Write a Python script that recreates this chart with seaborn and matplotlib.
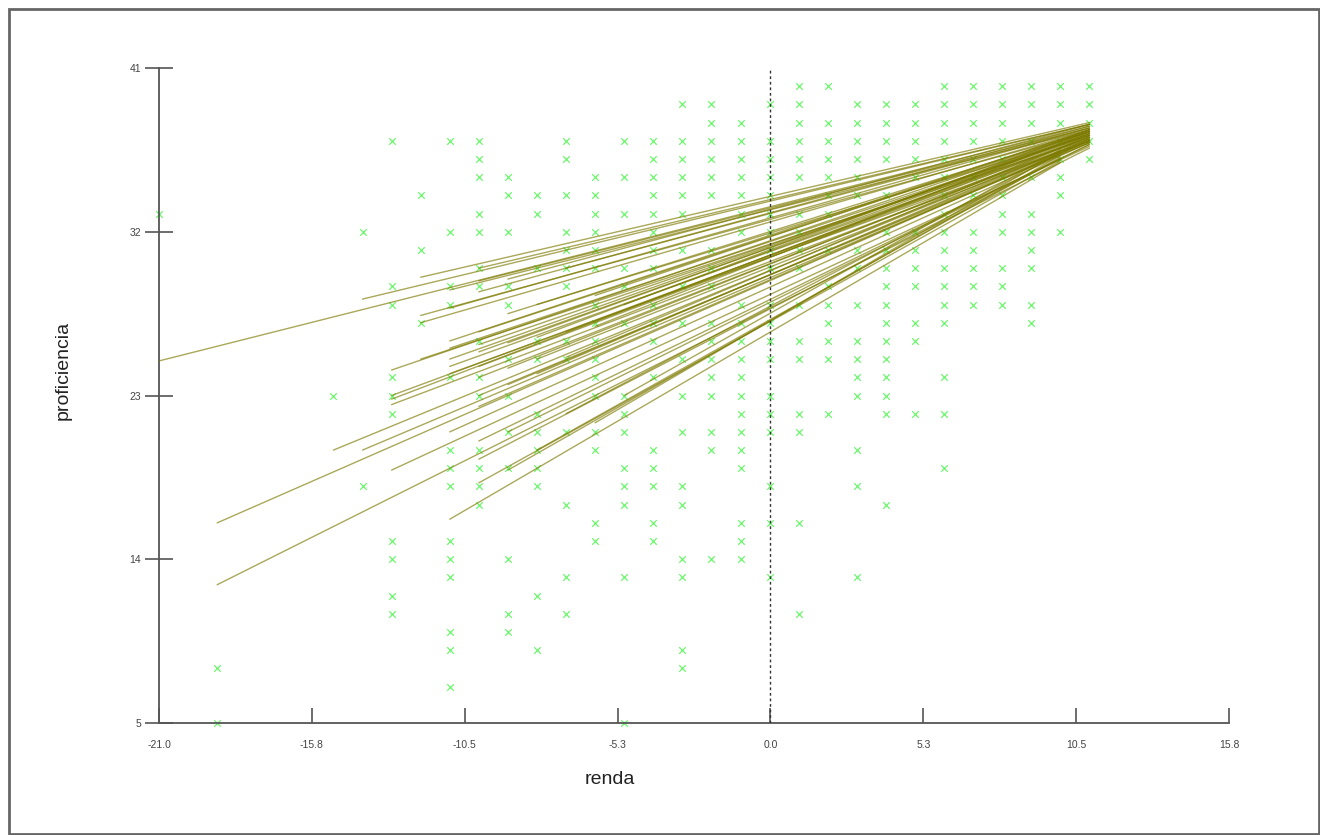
import numpy as np
import pandas as pd
import matplotlib.pyplot as plt
import seaborn as sns
from matplotlib.patches import Rectangle

# renda (x) columns and the proficiencia values found in each column
col_x = [-21, -19, -15, -14, -13, -12, -11, -10, -9, -8, -7, -6, -5, -4, -3,
         -2, -1, 0, 1, 2, 3, 4, 5, 6, 7, 8, 9, 10, 11]
col_y = [
    [33],
    [8, 5],
    [23],
    [32, 18],
    [37, 29, 28, 24, 23, 22, 15, 14, 12, 11],
    [34, 31, 27],
    [37, 32, 29, 28, 24, 20, 19, 18, 15, 14, 13, 10, 9, 7],
    [37, 36, 35, 33, 32, 30, 29, 26, 24, 23, 20, 19, 18, 17],
    [35, 34, 32, 29, 28, 25, 23, 21, 19, 14, 11, 10],
    [34, 33, 30, 26, 25, 22, 21, 20, 19, 18, 12, 9],
    [37, 36, 34, 32, 31, 30, 29, 26, 25, 21, 17, 13, 11],
    [35, 34, 33, 32, 31, 30, 28, 27, 26, 25, 24, 23, 21, 20, 16, 15],
    [37, 35, 33, 30, 29, 27, 23, 22, 21, 19, 18, 17, 13, 5],
    [37, 36, 35, 34, 33, 32, 31, 30, 28, 27, 26, 24, 20, 19, 18, 16, 15],
    [39, 37, 36, 35, 34, 33, 31, 29, 27, 25, 23, 21, 18, 17, 14, 13, 9, 8],
    [39, 38, 37, 36, 35, 34, 31, 30, 29, 27, 26, 25, 24, 23, 21, 20, 14],
    [38, 37, 36, 35, 34, 33, 32, 28, 27, 26, 25, 24, 23, 22, 21, 20, 19, 16, 15, 14],
    [39, 37, 36, 35, 34, 33, 32, 31, 30, 28, 27, 26, 25, 23, 22, 21, 18, 16, 13],
    [40, 39, 38, 37, 36, 35, 33, 32, 31, 30, 28, 26, 25, 22, 21, 16, 11],
    [40, 38, 37, 36, 35, 34, 33, 31, 29, 28, 27, 26, 25, 22],
    [39, 38, 37, 36, 35, 34, 31, 30, 28, 26, 25, 24, 23, 20, 18, 13],
    [39, 38, 37, 36, 34, 32, 31, 30, 29, 28, 27, 26, 25, 24, 23, 22, 17],
    [39, 38, 37, 36, 35, 32, 31, 30, 29, 27, 26, 22],
    [40, 39, 38, 37, 36, 35, 34, 33, 32, 31, 30, 29, 28, 27, 24, 22, 19],
    [40, 39, 38, 37, 36, 35, 34, 32, 31, 30, 29, 28],
    [40, 39, 38, 37, 36, 35, 34, 33, 32, 30, 29, 28],
    [40, 39, 38, 37, 35, 33, 32, 31, 30, 28, 27],
    [40, 39, 38, 37, 36, 35, 34, 32],
    [40, 39, 38, 37, 36],
]

# group regression lines: start (x0, y0) -> end (x1, y1)
line_x0 = [-21, -14, -12, -12, -10, -10, -11, -8, -10, -9, -7,
           -13, -13, -13, -13, -11, -11, -11, -11, -10, -10, -10, -10, -10, -9, -8, -7,
           -10, -10, -9, -9, -8, -8, -7, -6, -11, -12,
           -12, -11, -9, -6, -5,
           -19, -19, -15, -14, -13, -11, -10, -10, -9, -10, -11, -9, -7, -6, -8, -5]
line_y0 = [24.9, 28.3, 29.5, 27.4, 30.0, 29.3, 28.8, 28.0, 28.7, 29.4, 30.0,
           24.4, 23.0, 22.8, 22.5, 26.0, 25.0, 24.6, 24.2, 26.5, 25.8, 24.0, 23.0, 22.4, 24.5, 25.0, 26.5,
           25.4, 24.6, 25.9, 23.6, 26.2, 24.2, 25.1, 26.8, 25.6, 25.0,
           27.0, 27.8, 27.5, 28.5, 28.0,
           16.0, 12.6, 20.0, 20.0, 18.9, 16.2, 19.5, 18.2, 18.9, 20.5, 21.0, 21.0, 22.0, 21.5, 20.0, 23.0]
line_x1 = [11, 11, 11, 11, 11, 11, 11, 11, 11, 11, 11,
           11, 11, 11, 11, 11, 11, 11, 11, 11, 11, 11, 11, 11, 11, 11, 11,
           11, 11, 11, 11, 11, 11, 11, 11, 11, 11,
           11, 11, 11, 11, 11,
           11, 11, 11, 11, 11, 10, 10, 10, 10, 11, 11, 11, 10, 10, 10, 10]
line_y1 = [37.8, 37.9, 38.0, 37.5, 37.9, 37.7, 37.6, 37.3, 37.8, 37.9, 37.7,
           37.5, 37.2, 37.4, 37.0, 37.6, 37.4, 37.2, 37.0, 37.5, 37.3, 37.1, 36.9, 37.0, 37.2, 37.0, 37.3,
           37.4, 37.2, 37.5, 37.0, 37.6, 37.1, 37.3, 37.5, 37.3, 37.1,
           37.6, 37.7, 37.5, 37.6, 37.4,
           37.0, 36.6, 37.1, 36.9, 36.7, 35.8, 36.0, 35.9, 36.2, 36.8, 36.9, 36.8, 36.3, 36.4, 36.1, 36.5]

x_tick_labels = ["-21.0", "-15.8", "-10.5", "-5.3", "0.0", "5.3", "10.5", "15.8"]
y_ticks = [5, 14, 23, 32, 41]

pts = pd.DataFrame({
    "renda": [x for x, ys in zip(col_x, col_y) for _ in ys],
    "proficiencia": [y for ys in col_y for y in ys],
})
lines = pd.DataFrame({
    "id": list(range(len(line_x0))) * 2,
    "renda": line_x0 + line_x1,
    "proficiencia": line_y0 + line_y1,
})

sns.set_style("white")
plt.rcParams["font.family"] = ["Liberation Sans", "DejaVu Sans"]

fig = plt.figure(figsize=(13.2, 8.35), dpi=100)
ax = fig.add_axes([159 / 1320, 112 / 835, 1070 / 1320, 655 / 835])

sns.scatterplot(data=pts, x="renda", y="proficiencia", marker="x", color="#6cf56c",
                s=22, linewidth=0.9, clip_on=False, zorder=2, ax=ax)
sns.lineplot(data=lines, x="renda", y="proficiencia", units="id", estimator=None,
             sort=False, color="#7d7a00", lw=1.0, alpha=0.65, legend=False, zorder=3, ax=ax)
ax.axvline(0, color="#333333", ls=(0, (2, 2)), lw=1, zorder=4)

ax.set_xlim(-21.0, 15.8)
ax.set_ylim(5, 41)
ax.set_xticks(np.linspace(-21.0, 15.8, 8))
ax.set_xticklabels(x_tick_labels)
ax.set_yticks(y_ticks)
ax.set_yticklabels([str(v) for v in y_ticks])

for s in ["top", "right"]:
    ax.spines[s].set_visible(False)
for s in ["left", "bottom"]:
    ax.spines[s].set_color("#555555")
    ax.spines[s].set_linewidth(1.3)

ax.tick_params(axis="y", direction="inout", length=20, width=1.2, color="#555555",
               labelsize=7.5, labelcolor="#444444", pad=3, left=True)
ax.tick_params(axis="x", direction="in", length=11, width=1.2, color="#555555",
               labelsize=7.5, labelcolor="#444444", pad=12, bottom=True)

ax.set_xlabel("renda", fontsize=14, color="#222222")
ax.set_ylabel("proficiencia", fontsize=14, color="#222222")
ax.xaxis.set_label_coords((610 - 159) / 1070, -(771 - 723) / 655)
ax.yaxis.set_label_coords(-(159 - 72) / 1070, (723 - 370) / 655)

fig.add_artist(Rectangle((9 / 1320, 1 / 835), (1319 - 9) / 1320, (834 - 9) / 835,
                         transform=fig.transFigure, fill=False, ec="#666666", lw=2))

fig.savefig("out.png", dpi=100)
